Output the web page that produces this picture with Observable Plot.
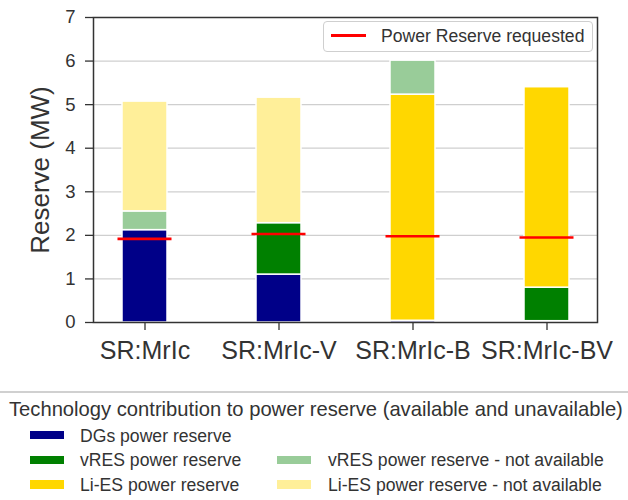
<!DOCTYPE html>
<html>
<head>
<meta charset="utf-8">
<script src="https://cdn.jsdelivr.net/npm/d3@7"></script>
<script src="https://cdn.jsdelivr.net/npm/@observablehq/plot@0.6"></script>
<style>
  html, body { margin: 0; padding: 0; background: #fff; }
  #wrap { position: relative; width: 628px; height: 500px; font-family: "Liberation Sans", Arial, sans-serif; color: #333; overflow: hidden; }
  .abs { position: absolute; white-space: nowrap; }
  .sw { position: absolute; width: 34px; height: 8.5px; }
</style>
</head>
<body>
<div id="wrap">
  <div id="chart"></div>
  <div class="abs" style="left:323px; top:21px; width:268px; height:29px; border:1.5px solid #cfcfcf; border-radius:4px; background:rgba(255,255,255,0.85);"></div>
  <div class="abs" style="left:331px; top:34px; width:35px; height:2.5px; background:#ff0000;"></div>
  <div class="abs" style="left:381px; top:24.5px; font-size:17.6px; line-height:22px;">Power Reserve requested</div>

  <div class="abs" style="left:0px; top:391px; width:628px; height:1.5px; background:#d0d0d0;"></div>
  <div class="abs" style="left:9px; top:396.5px; font-size:20.2px; line-height:24px;">Technology contribution to power reserve (available and unavailable)</div>
  <div id="legend"></div>
</div>
<script>
const scenarios = ["SR:MrIc", "SR:MrIc-V", "SR:MrIc-B", "SR:MrIc-BV"];
const techs = ["DGs power reserve", "vRES power reserve", "Li-ES power reserve", "vRES power reserve - not available", "Li-ES power reserve - not available"];
const techColors = ["#000088", "#008000", "#ffd700", "#99cc99", "#ffef99"];
const dgs = [2.12, 1.10, 0.04, 0.03];
const vres = [0, 1.18, 0, 0.77];
const lies = [0, 0, 5.19, 4.60];
const vresNA = [0.43, 0, 0.78, 0];
const liesNA = [2.52, 2.88, 0, 0];
const requested = [1.92, 2.03, 1.98, 1.95];
const yTicks = [0, 1, 2, 3, 4, 5, 6, 7];

const series = [dgs, vres, lies, vresNA, liesNA];
const rows = [];
techs.forEach((t, i) => scenarios.forEach((s, j) => rows.push({scenario: s, tech: t, value: series[i][j]})));
const req = scenarios.map((s, j) => ({scenario: s, value: requested[j]}));

const chart = Plot.plot({
  width: 628,
  height: 380,
  marginLeft: 93,
  marginRight: 31,
  marginTop: 17,
  marginBottom: 58,
  style: {fontFamily: '"Liberation Sans", Arial, sans-serif', color: "#333", background: "#fff"},
  x: {domain: scenarios, paddingInner: 0.665, paddingOuter: 0.206, label: null},
  y: {domain: [0, 7], label: null},
  color: {domain: techs, range: techColors},
  marks: [
    Plot.gridY(yTicks, {stroke: "#cfcfcf", strokeOpacity: 1, strokeWidth: 1.2}),
    Plot.barY(rows, {x: "scenario", y: "value", fill: "tech", stroke: "#fff", strokeWidth: 1.5}),
    Plot.tickY(req, {x: "scenario", y: "value", stroke: "#ff0000", strokeWidth: 2.6, insetLeft: -4.5, insetRight: -4.5}),
    Plot.frame({stroke: "#333", strokeWidth: 1.5}),
    Plot.axisY(yTicks, {tickSize: 8, tickPadding: 10, fontSize: 18.5, stroke: "#333", strokeWidth: 1.3,
      label: "Reserve (MW)", labelAnchor: "center", labelArrow: "none", labelOffset: 63}),
    Plot.axisX({tickSize: 8, tickPadding: 11, fontSize: 25, stroke: "#333", strokeWidth: 1.3, label: null})
  ]
});
chart.querySelectorAll("g[aria-label='y-axis label'] text").forEach(t => t.setAttribute("font-size", "26"));
document.getElementById("chart").appendChild(chart);

// bottom legend
const legendPos = [
  {col: 0, row: 0}, {col: 0, row: 1}, {col: 0, row: 2}, {col: 1, row: 1}, {col: 1, row: 2}
];
const leg = document.getElementById("legend");
techs.forEach((t, i) => {
  const p = legendPos[i];
  const cy = 435 + p.row * 24.8;
  const sx = p.col === 0 ? 30 : 277;
  const tx = p.col === 0 ? 80 : 328;
  const sw = document.createElement("div");
  sw.className = "sw";
  sw.style.left = sx + "px";
  sw.style.top = (cy - 4.25) + "px";
  sw.style.background = techColors[i];
  leg.appendChild(sw);
  const tt = document.createElement("div");
  tt.className = "abs";
  tt.style.left = tx + "px";
  tt.style.top = (cy - 10.4) + "px";
  tt.style.fontSize = "17.6px";
  tt.style.lineHeight = "22px";
  tt.textContent = t;
  leg.appendChild(tt);
});
</script>
</body>
</html>
